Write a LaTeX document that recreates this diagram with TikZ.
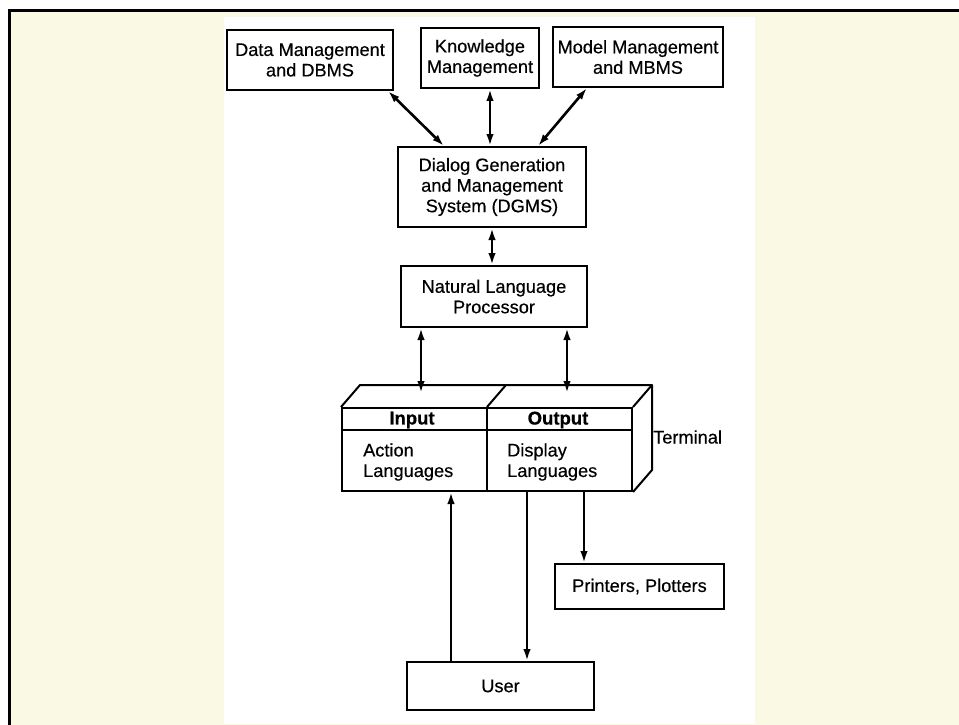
\documentclass[tikz,border=0pt]{standalone}
\usepackage{fontspec}
\setmainfont{Liberation Sans}
\newfontfamily\labelfont[FakeBold=0.4]{Liberation Sans}
\newfontfamily\headfont[FakeBold=0.6]{Liberation Sans Bold}
\usetikzlibrary{arrows.meta,calc}
\definecolor{pagebg}{RGB}{250,249,227}
\begin{document}
\begin{tikzpicture}[x=1pt,y=-1pt,
  box/.style={draw, line width=2pt, inner sep=0pt, align=center,
    font=\labelfont\fontsize{18.2}{20.5}\selectfont},
  lbl/.style={inner sep=0pt, font=\labelfont\fontsize{18.2}{20.5}\selectfont},
  hdr/.style={inner sep=0pt, font=\headfont\fontsize{18.5}{20.5}\selectfont},
  tip/.tip={Latex[length=12pt,width=7.5pt]},
  link/.style={line width=2.6pt, tip-tip},
  oneway/.style={line width=2.6pt, -tip},
  faceline/.style={line width=2pt, line join=round},
]
\useasboundingbox (0,0) rectangle (959,725);
% frame and page
\fill[white] (0,0) rectangle (959,725);
\fill[pagebg] (9,10) rectangle (959,725);
\fill[white] (224,17) rectangle (755,724);
\draw[line width=3pt] (9.5,725) -- (9.5,10.5) -- (959,10.5);

% management components
\node[box, minimum width=166, minimum height=60] (data)  at (310,60)  {Data Management\\and DBMS};
\node[box, minimum width=118, minimum height=60] (know)  at (480,58)  {Knowledge\\Management};
\node[box, minimum width=170, minimum height=60] (model) at (638,57)  {Model Management\\and MBMS};
\node[box, minimum width=188, minimum height=80] (dgms)  at (492,187) {Dialog Generation\\and Management\\System (DGMS)};
\node[box, minimum width=186, minimum height=61] (nlp)   at (494,296.5) {Natural Language\\Processor};

% terminal drawn as a box in perspective
\node[box, minimum width=290, minimum height=83] (term) at (487,449.5) {};
\draw[faceline] (term.north west) -- ++(19,-22) -- ($(term.north east)+(19,-22)$)
  -- ($(term.south east)+(19,-22)$) -- (term.south east);
\draw[faceline] (term.north east) -- ++(19,-22);
\draw[faceline] (term.north) -- ++(19,-22);
\draw[faceline] (term.north) -- (term.south);
\draw[faceline] ([yshift=-23pt]term.north west) -- ([yshift=-23pt]term.north east);
\node[hdr] (inhdr)  at (412,420) {Input};
\node[hdr] (outhdr) at (558,420) {Output};
\node[lbl, anchor=west, align=left] (inbody)  at (363,462) {Action\\Languages};
\node[lbl, anchor=west, align=left] (outbody) at (507,462) {Display\\Languages};
\node[lbl, anchor=west] (termlbl) at (653,437) {Terminal};

\node[box, minimum width=169, minimum height=45] (prn)  at (639.5,586.5) {Printers, Plotters};
\node[box, minimum width=187, minimum height=48] (user) at (500.5,686) {User};

% connectors
\draw[link] ([xshift=47]dgms.north west) -- ([xshift=-6]data.south east);
\draw[link] ([xshift=-2]dgms.north) -- ([xshift=10]know.south);
\draw[link] ([xshift=-49]dgms.north east) -- ([xshift=35]model.south west);
\draw[link] (dgms.south) -- (dgms.south |- nlp.north);

\coordinate (intop)  at (421,393);
\coordinate (outtop) at (567,393);
\draw[link] (nlp.south -| intop) -- (intop);
\draw[link] (nlp.south -| outtop) -- (outtop);

\coordinate (prnin) at ([xshift=30]prn.north west);
\draw[oneway] (term.south -| prnin) -- (prnin);

\coordinate (uup)   at ([xshift=45]user.north west);
\coordinate (udown) at ([xshift=121]user.north west);
\draw[oneway] (uup) -- (uup |- term.south);
\draw[oneway] (udown |- term.south) -- (udown);
\end{tikzpicture}
\end{document}
